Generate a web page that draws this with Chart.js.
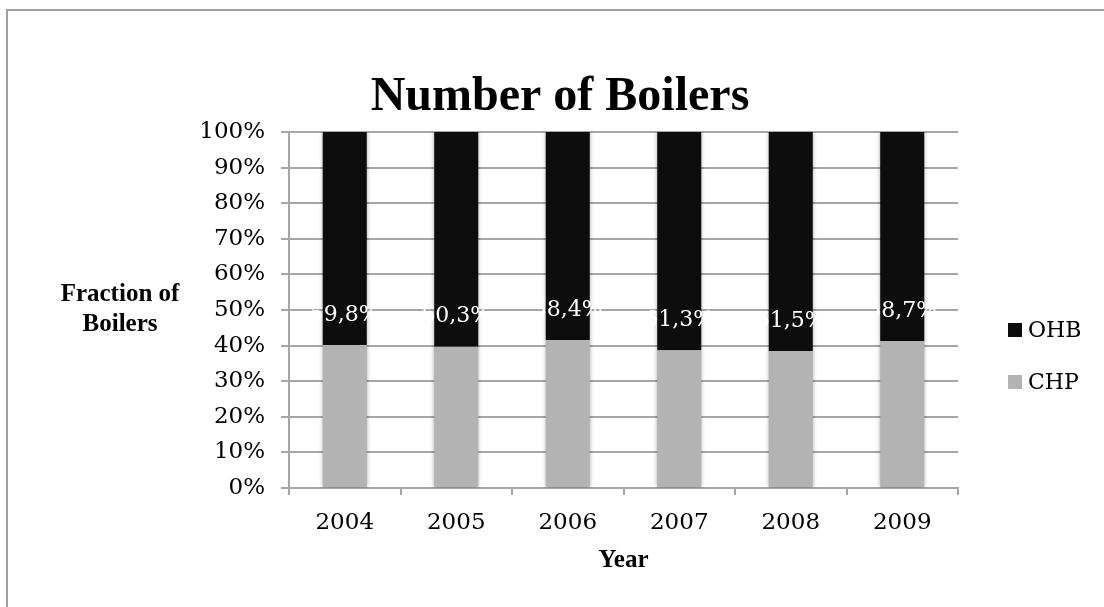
<!DOCTYPE html>
<html>
<head>
<meta charset="utf-8">
<title>Number of Boilers</title>
<script src="https://cdn.jsdelivr.net/npm/chart.js@4.4.0/dist/chart.umd.min.js"></script>
<style>
  body { margin: 0; background: #fff; }
  #wrap { position: relative; width: 1104px; height: 607px; overflow: hidden; }
  #frame { position: absolute; left: 6px; top: 9px; right: -10px; bottom: -10px;
           border-left: 2px solid #a0a0a0; border-top: 2px solid #a0a0a0; }
  canvas { position: absolute; left: 0; top: 0; }
</style>
</head>
<body>
<div id="wrap">
  <div id="frame"></div>
  <canvas id="myChart" width="1104" height="607"></canvas>
</div>
<script>
const years = ["2004", "2005", "2006", "2007", "2008", "2009"];
const ohb = [59.8, 60.3, 58.4, 61.3, 61.5, 58.7];
const chp = [40.2, 39.7, 41.6, 38.7, 38.5, 41.3];
const yTickLabels = ["0%", "10%", "20%", "30%", "40%", "50%", "60%", "70%", "80%", "90%", "100%"];

const serif = "'DejaVu Serif', 'Liberation Serif', serif";
const titleSerif = "'Liberation Serif', serif";
const gridGray = "#a6a6a6";

// titles, legend, and the OHB share written just above the CHP part of each bar
const boilerText = {
  id: "boilerText",
  beforeDatasetsDraw(chart) {
    const ctx = chart.ctx;
    ctx.save();
    ctx.shadowColor = "rgba(0,0,0,0.35)";
    ctx.shadowBlur = 4;
  },
  afterDatasetsDraw(chart) {
    const ctx = chart.ctx;
    ctx.restore();
    ctx.save();
    ctx.fillStyle = "#ffffff";
    ctx.font = "22px " + serif;
    ctx.textAlign = "center";
    ctx.textBaseline = "middle";
    chart.getDatasetMeta(1).data.forEach((bar, i) => {
      const p = bar.getProps(["x", "base"], true);
      ctx.fillText(ohb[i].toFixed(1).replace(".", ",") + "%", p.x, p.base - 30);
    });
    ctx.restore();
  },
  afterDraw(chart) {
    const ctx = chart.ctx;
    const area = chart.chartArea;
    ctx.save();
    ctx.fillStyle = "#000";
    ctx.textAlign = "center";

    ctx.textBaseline = "alphabetic";
    ctx.font = "bold 48px " + titleSerif;
    ctx.fillText("Number of Boilers", 560, 110);

    ctx.textBaseline = "middle";
    ctx.font = "bold 25px " + titleSerif;
    ctx.fillText("Fraction of", 120, 295);
    ctx.fillText("Boilers", 120, 325);
    ctx.fillText("Year", (area.left + area.right) / 2, 561);

    // legend
    const items = [["OHB", "#0d0d0d", 330], ["CHP", "#b3b3b3", 382]];
    ctx.textAlign = "left";
    ctx.font = "22px " + serif;
    items.forEach(([name, col, y]) => {
      ctx.fillStyle = col;
      ctx.fillRect(1008, y - 7, 14, 14);
      ctx.fillStyle = "#000";
      ctx.fillText(name, 1028, y + 1);
    });
    ctx.restore();
  }
};

new Chart(document.getElementById("myChart").getContext("2d"), {
  type: "bar",
  data: {
    labels: years,
    datasets: [
      { label: "CHP", data: chp, backgroundColor: "#b3b3b3", borderWidth: 0,
        categoryPercentage: 1, barPercentage: 0.395 },
      { label: "OHB", data: ohb, backgroundColor: "#0d0d0d", borderWidth: 0,
        categoryPercentage: 1, barPercentage: 0.395 }
    ]
  },
  options: {
    responsive: false,
    devicePixelRatio: 1,
    animation: false,
    layout: { padding: { left: 0, right: 146, top: 132, bottom: 0 } },
    plugins: { legend: { display: false }, tooltip: { enabled: false } },
    scales: {
      x: {
        stacked: true,
        afterFit: (s) => { s.height = 119; },
        grid: { offset: true, drawOnChartArea: false, tickLength: 7, color: gridGray, lineWidth: 2 },
        border: { color: gridGray, width: 2 },
        ticks: { color: "#000", font: { family: serif, size: 23 }, padding: 14 }
      },
      y: {
        stacked: true,
        min: 0,
        max: 100,
        afterFit: (s) => { s.width = 289; },
        grid: { color: gridGray, lineWidth: 2, tickLength: 8 },
        border: { color: gridGray, width: 2 },
        ticks: {
          stepSize: 10,
          color: "#000",
          padding: 16,
          font: { family: serif, size: 23 },
          callback: (v) => yTickLabels[v / 10]
        }
      }
    }
  },
  plugins: [boilerText]
});
</script>
</body>
</html>
